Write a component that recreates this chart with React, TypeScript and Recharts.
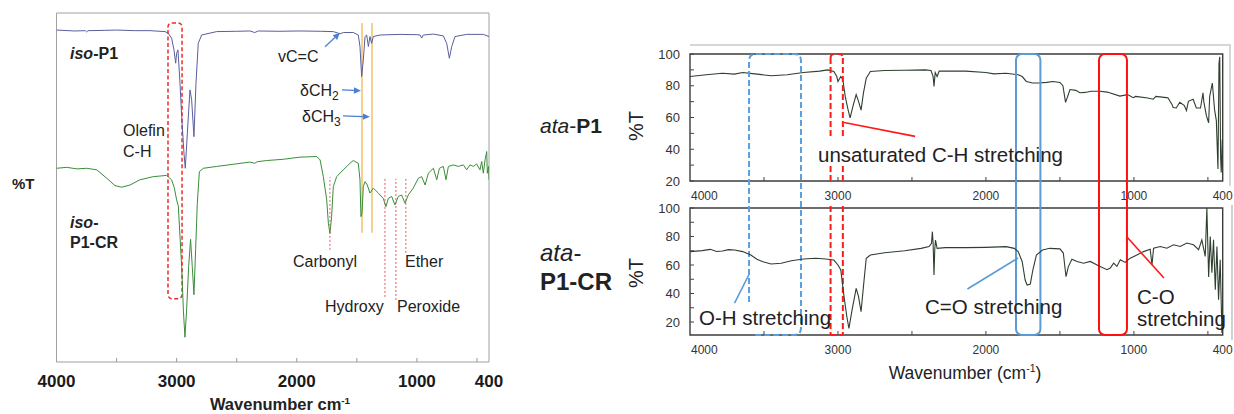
import React from 'react';
import { LineChart, Line, XAxis, YAxis, ReferenceLine, ReferenceArea } from 'recharts';

if (typeof document !== 'undefined') {
  document.body.style.margin = '0';
}

const FONT = '"Liberation Sans", Arial, Helvetica, sans-serif';

// ---------- Left panel (iso-P1 / iso-P1-CR), arbitrary %T units ----------
const isoP1Wn = [4000, 3850, 3760, 3749, 3738, 3600, 3499, 3350, 3222, 3097, 3070, 3042, 3022, 3008, 3000, 2989, 2972, 2958, 2939, 2928, 2911, 2889, 2875, 2856, 2839, 2820, 2792, 2667, 2500, 2390, 2350, 2320, 2150, 1973, 1800, 1696, 1640, 1613, 1530, 1488, 1474, 1460, 1446, 1432, 1418, 1404, 1391, 1377, 1363, 1307, 1141, 1000, 974, 960, 946, 863, 780, 752, 730, 710, 683, 586, 447, 400];
const isoP1T = [94.8, 94.5, 94.6, 94.2, 94.6, 94.7, 94.8, 94.6, 94.6, 94.3, 93.8, 92.2, 88.4, 84.1, 87.3, 88.4, 77.6, 66.9, 55.1, 50.2, 61.5, 75.5, 72.3, 60.4, 77.6, 90.5, 93.2, 94.3, 94.4, 94.5, 94.0, 94.5, 94.4, 94.5, 94.4, 94.3, 93.6, 94.0, 94.0, 93.2, 89.5, 79.8, 85.2, 92.7, 93.2, 89.5, 92.7, 90.5, 92.7, 93.2, 93.4, 93.3, 93.2, 92.2, 93.2, 93.5, 92.9, 90.5, 85.7, 89.5, 92.7, 93.4, 93.4, 92.7];

const isoP1CRWn = [4000, 3915, 3830, 3749, 3665, 3582, 3513, 3458, 3388, 3305, 3194, 3083, 3042, 3020, 3000, 2986, 2958, 2944, 2931, 2917, 2900, 2884, 2870, 2856, 2842, 2828, 2811, 2778, 2667, 2528, 2390, 2350, 2330, 2251, 2112, 1973, 1834, 1806, 1779, 1751, 1737, 1724, 1710, 1696, 1668, 1613, 1557, 1530, 1488, 1474, 1466, 1457, 1446, 1432, 1413, 1391, 1363, 1321, 1280, 1258, 1238, 1210, 1183, 1155, 1127, 1099, 1072, 1030, 988, 960, 932, 905, 863, 835, 813, 780, 758, 738, 697, 655, 613, 586, 558, 530, 503, 475, 461, 447, 433, 419, 414, 403, 400];
const isoP1CRT = [50.2, 50.5, 50.0, 50.2, 49.7, 47.0, 44.6, 44.1, 44.8, 46.5, 47.5, 47.9, 46.5, 44.0, 40.0, 38.0, 18.5, 4.5, -4.3, 4.5, 18.5, 27.3, 18.5, 9.4, 23.9, 38.9, 49.1, 50.2, 50.8, 51.5, 52.2, 51.8, 52.3, 52.7, 53.1, 53.8, 54.0, 52.9, 47.5, 40.0, 32.5, 29.2, 34.6, 44.3, 47.5, 49.7, 51.8, 52.7, 51.8, 46.5, 34.6, 35.7, 44.3, 45.9, 44.8, 42.2, 43.8, 42.2, 40.5, 37.8, 40.5, 41.1, 38.4, 41.1, 41.6, 38.9, 41.6, 43.8, 47.0, 47.5, 44.8, 48.6, 50.2, 46.5, 50.2, 50.8, 46.5, 50.8, 51.3, 50.8, 51.3, 49.7, 51.3, 50.8, 51.6, 49.7, 52.4, 48.6, 52.9, 55.6, 48.6, 50.8, 46.5];

const LEFT_Y_DOMAIN: [number, number] = [-12.3, 100.3];
const LEFT_Y_TICKS = [0, 20, 40, 60, 80];
const LEFT_X_TICKS = [4000, 3500, 3000, 2500, 2000, 1500, 1000, 500, 400];
const LEFT_X_LABELS = [4000, 3000, 2000, 1000, 400];

// ---------- Right panels (ata-P1 / ata-P1-CR), %T ----------
const ataP1Wn = [4000, 3890, 3781, 3700, 3644, 3562, 3452, 3343, 3233, 3124, 3069, 3028, 3008, 3000, 2981, 2967, 2951, 2932, 2918, 2899, 2877, 2861, 2844, 2828, 2809, 2781, 2685, 2549, 2412, 2371, 2357, 2351, 2343, 2330, 2316, 2138, 2001, 1946, 1864, 1782, 1755, 1727, 1686, 1645, 1590, 1547, 1500, 1480, 1462, 1445, 1432, 1393, 1365, 1330, 1289, 1230, 1180, 1095, 1043, 1005, 988, 906, 870, 851, 796, 780, 769, 742, 735, 714, 690, 659, 645, 632, 600, 578, 550, 533, 528, 510, 495, 488, 470, 455, 443, 432, 425, 420, 414, 410, 403, 400];
const ataP1T = [85.8, 86.9, 87.9, 87.3, 88.3, 87.5, 86.3, 86.9, 88.3, 89.2, 90.0, 89.0, 85.8, 82.7, 85.8, 83.8, 73.3, 65.0, 59.8, 67.0, 74.4, 70.2, 64.6, 75.4, 84.8, 89.0, 89.6, 89.8, 90.0, 89.6, 85.8, 79.6, 88.3, 85.8, 89.2, 89.2, 88.3, 87.5, 87.9, 86.9, 85.8, 82.7, 81.7, 81.7, 82.1, 82.7, 82.1, 80.0, 69.5, 74.0, 77.6, 77.1, 75.6, 75.8, 76.5, 76.5, 76.0, 73.5, 74.4, 72.5, 73.3, 72.3, 71.5, 73.3, 72.7, 72.5, 72.3, 68.1, 66.3, 66.0, 69.6, 67.5, 64.3, 70.2, 71.5, 66.0, 66.0, 75.6, 70.2, 61.0, 56.7, 73.3, 81.7, 65.0, 58.0, 27.5, 94.2, 98.3, 35.0, 25.4, 46.2, 40.0];

const ataP1CRWn = [4000, 3917, 3863, 3820, 3781, 3740, 3699, 3644, 3589, 3548, 3507, 3452, 3384, 3315, 3233, 3151, 3082, 3028, 3000, 2981, 2959, 2940, 2926, 2905, 2877, 2861, 2844, 2828, 2809, 2781, 2685, 2549, 2439, 2384, 2368, 2362, 2357, 2351, 2346, 2341, 2330, 2275, 2138, 2001, 1864, 1809, 1782, 1755, 1735, 1722, 1700, 1683, 1659, 1618, 1568, 1500, 1477, 1459, 1443, 1419, 1385, 1340, 1295, 1239, 1182, 1160, 1137, 1115, 1092, 1059, 1025, 980, 935, 890, 878, 867, 822, 777, 732, 687, 642, 597, 563, 541, 518, 507, 495, 484, 473, 462, 450, 439, 428, 417, 405, 400];
const ataP1CRT = [69.4, 70.1, 71.0, 69.5, 69.8, 70.8, 70.5, 69.4, 67.0, 64.0, 62.3, 60.7, 61.2, 63.0, 64.2, 64.7, 64.2, 63.5, 60.0, 56.5, 37.8, 23.7, 15.5, 28.4, 43.6, 37.8, 27.2, 44.8, 64.7, 67.0, 68.6, 70.0, 71.7, 72.9, 75.2, 83.4, 75.2, 53.0, 70.5, 77.5, 71.7, 72.2, 72.2, 72.4, 72.9, 71.7, 69.4, 62.3, 49.5, 46.0, 46.7, 56.5, 67.0, 70.5, 71.7, 71.3, 68.4, 51.8, 58.9, 64.1, 62.5, 61.3, 62.5, 59.5, 56.7, 57.9, 61.3, 59.0, 63.7, 61.8, 64.8, 67.1, 69.4, 71.1, 60.1, 71.8, 73.0, 71.8, 74.2, 73.0, 75.4, 74.2, 70.7, 77.7, 66.0, 100.0, 51.6, 80.0, 54.6, 77.7, 42.6, 73.0, 35.6, 63.7, 12.3, 35.6];

const RIGHT_X_TICKS = [4000, 3500, 3000, 2500, 2000, 1500, 1000, 500, 400];
const RIGHT_X_LABELS = [4000, 3000, 2000, 1000, 400];
const TOP_Y_DOMAIN: [number, number] = [20, 100];
const BOT_Y_DOMAIN: [number, number] = [10.9, 100];
const RIGHT_Y_TICKS = [20, 30, 40, 50, 60, 70, 80, 90, 100];
const RIGHT_Y_LABELS = [20, 40, 60, 80, 100];

// band annotations (wavenumber ranges) spanning both right panels
const OH_BAND = [3601, 3250];
const CH_BAND = [3050, 2967];
const CO_DOUBLE_BAND = [1797, 1632];
const CO_SINGLE_BAND = [1236, 1047];

const zip = (wn: number[], t: number[]) => wn.map((w, i) => ({ wn: w, t: t[i] }));
const isoP1Data = zip(isoP1Wn, isoP1T);
const isoP1CRData = zip(isoP1CRWn, isoP1CRT);
const ataP1Data = zip(ataP1Wn, ataP1T);
const ataP1CRData = zip(ataP1CRWn, ataP1CRT);

// layout of the lower right panel (px), used to extend the bands up to the top panel
const BOT_TOP_PX = 208;
const BOT_BOTTOM_PX = 335;
const TOP_TOP_PX = 54;
const BOT_PX_PER_UNIT = (BOT_BOTTOM_PX - BOT_TOP_PX) / (BOT_Y_DOMAIN[1] - BOT_Y_DOMAIN[0]);
const BAND_TOP_VALUE = BOT_Y_DOMAIN[1] + (BOT_TOP_PX - TOP_TOP_PX) / BOT_PX_PER_UNIT;

// ---------- helpers ----------
const LeftXTick = (p: any) => {
  const { x, y, payload } = p;
  const v = payload.value;
  return (
    <g>
      {v !== 4000 && v !== 400 && <line x1={x} y1={y} x2={x} y2={y - 4} stroke="#999" />}
      {LEFT_X_LABELS.includes(v) && (
        <text x={x} y={y + 25} textAnchor="middle" fontFamily={FONT} fontWeight="bold" fontSize={17} fill="#1a1a1a">
          {v}
        </text>
      )}
    </g>
  );
};

const LeftYTick = (p: any) => {
  const { x, y } = p;
  return <line x1={x} y1={y} x2={x + 4} y2={y} stroke="#999" />;
};

const RightXTick = (p: any) => {
  const { x, y, payload } = p;
  const v = payload.value;
  return (
    <g>
      {v !== 4000 && v !== 400 && <line x1={x} y1={y} x2={x} y2={y - 4} stroke="#444" />}
      {RIGHT_X_LABELS.includes(v) && (
        <text x={v === 4000 ? x + 1 : x} y={y + 19} textAnchor={v === 4000 ? 'start' : 'middle'} fontFamily={FONT} fontSize={12} fill="#333">
          {v}
        </text>
      )}
    </g>
  );
};

const RightYTick = (p: any) => {
  const { x, y, payload } = p;
  const v = payload.value;
  return (
    <g>
      <line x1={x} y1={y} x2={x + 4} y2={y} stroke="#444" />
      {RIGHT_Y_LABELS.includes(v) && (
        <text x={x - 10} y={y} dy="0.35em" textAnchor="end" fontFamily={FONT} fontSize={13} fill="#333">
          {v}
        </text>
      )}
    </g>
  );
};

const roundRect = (stroke: string, dash: string | undefined, r = 6, w = 2) => (p: any) => (
  <rect x={p.x} y={p.y} width={p.width} height={p.height} rx={r} ry={r} fill="none" stroke={stroke} strokeWidth={w} strokeDasharray={dash} />
);

// blue dashed O-H box: left edge interrupted where the label sits
const ohShape = (p: any) => {
  const { x, y, width: w, height: h } = p;
  const r = 7;
  const leftEnd = h - 33;
  const d = `M ${x} ${y + leftEnd} L ${x} ${y + r} Q ${x} ${y} ${x + r} ${y} L ${x + w - r} ${y} Q ${x + w} ${y} ${x + w} ${y + r} L ${x + w} ${y + h - r} Q ${x + w} ${y + h} ${x + w - r} ${y + h} L ${x + 3} ${y + h}`;
  return <path d={d} fill="none" stroke="#5a9fe0" strokeWidth={2} strokeDasharray="6 3" />;
};

// red dashed C-H box: interrupted behind text and tick labels
const chShape = (p: any) => {
  const { x, y, width: w, height: h } = p;
  const r = 4;
  const segs = [[r, 83], [112, 130], [152, h]];
  const parts: string[] = [];
  parts.push(`M ${x} ${y + r} Q ${x} ${y} ${x + r} ${y} L ${x + w - r} ${y} Q ${x + w} ${y} ${x + w} ${y + r}`);
  [x, x + w].forEach((xx) => segs.forEach(([a, b]) => parts.push(`M ${xx} ${y + a} L ${xx} ${y + b}`)));
  parts.push(`M ${x} ${y + h} L ${x + w} ${y + h}`);
  return <path d={parts.join(' ')} fill="none" stroke="#ff1a1a" strokeWidth={2} strokeDasharray="6 3" />;
};

const arrowShape = (color: string) => (p: any) => {
  const { x1, y1, x2, y2 } = p;
  const ang = Math.atan2(y2 - y1, x2 - x1);
  const L = 7;
  const W = 3.2;
  const bx = x2 - L * Math.cos(ang);
  const by = y2 - L * Math.sin(ang);
  const pts = `${x2},${y2} ${bx - W * Math.sin(ang)},${by + W * Math.cos(ang)} ${bx + W * Math.sin(ang)},${by - W * Math.cos(ang)}`;
  return (
    <g>
      <line x1={x1} y1={y1} x2={bx} y2={by} stroke={color} strokeWidth={1.3} />
      <polygon points={pts} fill={color} />
    </g>
  );
};

const Txt = ({ x, y, size = 16, bold = false, italic = false, anchor = 'start', color = '#222', rotate, children }: any) => {
  const tx = anchor === 'middle' ? '-50%' : anchor === 'end' ? '-100%' : '0';
  return (
    <div
      style={{
        position: 'absolute',
        left: x,
        top: y,
        transform: rotate ? `translate(-50%, -50%) rotate(${rotate}deg)` : `translate(${tx}, -50%)`,
        fontFamily: FONT,
        fontSize: size,
        fontWeight: bold ? 700 : 400,
        fontStyle: italic ? 'italic' : 'normal',
        color,
        whiteSpace: 'nowrap',
        lineHeight: 1.1,
      }}
    >
      {children}
    </div>
  );
};

const Abs = ({ children }: any) => <div style={{ position: 'absolute', left: 0, top: 0 }}>{children}</div>;

const RIGHT_MARGIN_R = 11.3;

export default function App() {
  return (
    <div style={{ position: 'relative', width: 1234, height: 414, background: '#fff', overflow: 'hidden' }}>
      {/* Left panel */}
      <Abs>
        <LineChart width={1234} height={414} margin={{ top: 13, right: 745, bottom: 12, left: 56.5 }}>
          <XAxis type="number" dataKey="wn" domain={[400, 4000]} reversed allowDataOverflow ticks={LEFT_X_TICKS} interval={0} tick={(p: any) => <LeftXTick {...p} />} tickLine={false} axisLine={false} tickSize={0} tickMargin={0} height={40} />
          <YAxis type="number" domain={LEFT_Y_DOMAIN} allowDataOverflow ticks={LEFT_Y_TICKS} interval={0} tick={(p: any) => <LeftYTick {...p} />} tickLine={false} axisLine={false} tickSize={0} tickMargin={0} width={0} />
          <ReferenceArea x1={4000} x2={400} y1={LEFT_Y_DOMAIN[0]} y2={LEFT_Y_DOMAIN[1]} fill="none" stroke="#a0a0a0" strokeWidth={1} />
          <ReferenceLine segment={[{ x: 1457, y: 29.4 }, { x: 1457, y: 97.1 }]} stroke="#f3c26a" strokeWidth={1.5} />
          <ReferenceLine segment={[{ x: 1374, y: 29.4 }, { x: 1374, y: 97.1 }]} stroke="#f3c26a" strokeWidth={1.5} />
          <Line data={isoP1Data} dataKey="t" type="linear" stroke="#5a5e9c" strokeWidth={1} dot={false} isAnimationActive={false} />
          <Line data={isoP1CRData} dataKey="t" type="linear" stroke="#3b8c3b" strokeWidth={1} dot={false} isAnimationActive={false} />
          <ReferenceArea x1={3072} x2={2955} y1={8.1} y2={97.1} shape={roundRect('#ee2b2b', '4 2.5', 4, 1.5)} />
          <ReferenceLine segment={[{ x: 1724, y: 23.9 }, { x: 1724, y: 47.4 }]} stroke="#e85a5a" strokeWidth={1} strokeDasharray="2 2" />
          <ReferenceLine segment={[{ x: 1266, y: 8.7 }, { x: 1266, y: 46.8 }]} stroke="#e85a5a" strokeWidth={1} strokeDasharray="2 2" />
          <ReferenceLine segment={[{ x: 1175, y: 7.7 }, { x: 1175, y: 46.8 }]} stroke="#e85a5a" strokeWidth={1} strokeDasharray="2 2" />
          <ReferenceLine segment={[{ x: 1092, y: 22.9 }, { x: 1092, y: 46.8 }]} stroke="#e85a5a" strokeWidth={1} strokeDasharray="2 2" />
          <ReferenceLine segment={[{ x: 1765, y: 89.4 }, { x: 1640, y: 93.9 }]} shape={arrowShape('#4a7fd4')} />
          <ReferenceLine segment={[{ x: 1624, y: 75.5 }, { x: 1466, y: 75.2 }]} shape={arrowShape('#4a7fd4')} />
          <ReferenceLine segment={[{ x: 1615, y: 67.1 }, { x: 1391, y: 66.8 }]} shape={arrowShape('#4a7fd4')} />
        </LineChart>
      </Abs>

      {/* light outer borders of right panels */}
      <div style={{ position: 'absolute', left: 690, top: 44, width: 540, height: 0, borderTop: '2px solid #d6d6d6' }} />
      <div style={{ position: 'absolute', left: 1229, top: 44, width: 0, height: 142, borderLeft: '2px solid #d6d6d6' }} />
      <div style={{ position: 'absolute', left: 1231, top: 205, width: 0, height: 135, borderLeft: '2px solid #d0d0d0' }} />

      {/* Right top panel */}
      <Abs>
        <LineChart width={1234} height={414} margin={{ top: 54, right: RIGHT_MARGIN_R, bottom: 203, left: 630 }}>
          <XAxis type="number" dataKey="wn" domain={[400, 4000]} reversed allowDataOverflow ticks={RIGHT_X_TICKS} interval={0} tick={(p: any) => <RightXTick {...p} />} tickLine={false} axisLine={false} tickSize={0} tickMargin={0} height={30} />
          <YAxis type="number" domain={TOP_Y_DOMAIN} allowDataOverflow ticks={RIGHT_Y_TICKS} interval={0} tick={(p: any) => <RightYTick {...p} />} tickLine={false} axisLine={false} tickSize={0} tickMargin={0} width={60} />
          <ReferenceArea x1={4000} x2={400} y1={TOP_Y_DOMAIN[0]} y2={TOP_Y_DOMAIN[1]} fill="none" stroke="#3c3c3c" strokeWidth={1.4} />
          <Line data={ataP1Data} dataKey="t" type="linear" stroke="#2f3f2f" strokeWidth={1.1} dot={false} isAnimationActive={false} />
          <ReferenceLine segment={[{ x: 2959, y: 56.9 }, { x: 2479, y: 48.1 }]} stroke="#ff1a1a" strokeWidth={1.6} />
        </LineChart>
      </Abs>

      {/* Right bottom panel (also carries the bands spanning both panels) */}
      <Abs>
        <LineChart width={1234} height={414} margin={{ top: BOT_TOP_PX, right: RIGHT_MARGIN_R, bottom: 414 - BOT_BOTTOM_PX - 30, left: 630 }}>
          <XAxis type="number" dataKey="wn" domain={[400, 4000]} reversed allowDataOverflow ticks={RIGHT_X_TICKS} interval={0} tick={(p: any) => <RightXTick {...p} />} tickLine={false} axisLine={false} tickSize={0} tickMargin={0} height={30} />
          <YAxis type="number" domain={BOT_Y_DOMAIN} allowDataOverflow ticks={RIGHT_Y_TICKS} interval={0} tick={(p: any) => <RightYTick {...p} />} tickLine={false} axisLine={false} tickSize={0} tickMargin={0} width={60} />
          <ReferenceArea x1={4000} x2={400} y1={BOT_Y_DOMAIN[0]} y2={BOT_Y_DOMAIN[1]} fill="none" stroke="#3c3c3c" strokeWidth={1.4} />
          <Line data={ataP1CRData} dataKey="t" type="linear" stroke="#2f3f2f" strokeWidth={1.1} dot={false} isAnimationActive={false} />
          <ReferenceLine segment={[{ x: 3603, y: 53 }, { x: 3699, y: 33.3 }]} stroke="#5b9bd5" strokeWidth={1.6} />
          <ReferenceLine segment={[{ x: 1783, y: 64.9 }, { x: 2125, y: 43.2 }]} stroke="#5b9bd5" strokeWidth={1.6} />
          <ReferenceLine segment={[{ x: 1047, y: 79.6 }, { x: 797, y: 50.9 }]} stroke="#ff1a1a" strokeWidth={1.6} />
          <ReferenceArea ifOverflow="visible" x1={OH_BAND[0]} x2={OH_BAND[1]} y1={BOT_Y_DOMAIN[0]} y2={BAND_TOP_VALUE} shape={ohShape} />
          <ReferenceArea ifOverflow="visible" x1={CO_DOUBLE_BAND[0]} x2={CO_DOUBLE_BAND[1]} y1={BOT_Y_DOMAIN[0]} y2={BAND_TOP_VALUE} shape={roundRect('#5b9bd5', undefined, 6, 2)} />
          <ReferenceArea ifOverflow="visible" x1={CO_SINGLE_BAND[0]} x2={CO_SINGLE_BAND[1]} y1={BOT_Y_DOMAIN[0]} y2={BAND_TOP_VALUE} shape={roundRect('#ff1010', undefined, 6, 2)} />
          <ReferenceArea ifOverflow="visible" x1={CH_BAND[0]} x2={CH_BAND[1]} y1={BOT_Y_DOMAIN[0]} y2={BAND_TOP_VALUE} shape={chShape} />
        </LineChart>
      </Abs>

      <Txt x={699} y={318} size={20.5}>O-H stretching</Txt>
      <Txt x={818} y={155} size={20.5}>unsaturated C-H stretching</Txt>
      <Txt x={925} y={307} size={20.5}>C=O stretching</Txt>
      <Txt x={1137} y={297} size={20.5}>C-O</Txt>
      <Txt x={1137} y={319} size={20.5}>stretching</Txt>
      <Txt x={965} y={373} size={17.5} anchor="middle">
        Wavenumber (cm<sup style={{ fontSize: '0.6em', verticalAlign: '0.6em' }}>-1</sup>)
      </Txt>

      <Txt x={540} y={126} size={21}>
        <i>ata</i>-<b>P1</b>
      </Txt>
      <Txt x={636} y={126} size={20} rotate={-90}>%T</Txt>
      <Txt x={540} y={253} size={24}>
        <i>ata</i>-
      </Txt>
      <Txt x={540} y={282} size={24} bold>P1-CR</Txt>
      <Txt x={636} y={273} size={20} rotate={-90}>%T</Txt>

      {/* Left panel text */}
      <Txt x={70} y={54} size={16} bold>
        <i>iso</i>-P1
      </Txt>
      <Txt x={70} y={223} size={16} bold>
        <i>iso</i>-
      </Txt>
      <Txt x={70} y={243} size={16} bold>P1-CR</Txt>
      <Txt x={12} y={184} size={15} bold>%T</Txt>
      <Txt x={123} y={131} size={16}>Olefin</Txt>
      <Txt x={123} y={152} size={16}>C-H</Txt>
      <Txt x={278} y={57} size={16}>vC=C</Txt>
      <Txt x={300} y={91} size={16}>
        δCH<span style={{ fontSize: '0.75em', position: 'relative', top: '0.3em' }}>2</span>
      </Txt>
      <Txt x={302} y={117} size={16}>
        δCH<span style={{ fontSize: '0.75em', position: 'relative', top: '0.3em' }}>3</span>
      </Txt>
      <Txt x={293} y={262} size={16}>Carbonyl</Txt>
      <Txt x={405} y={262} size={16}>Ether</Txt>
      <Txt x={325} y={307} size={16}>Hydroxy</Txt>
      <Txt x={397} y={307} size={16}>Peroxide</Txt>
      <Txt x={280} y={404} size={16.5} bold anchor="middle">
        Wavenumber cm<sup style={{ fontSize: '0.6em', verticalAlign: '0.6em' }}>-1</sup>
      </Txt>
    </div>
  );
}
